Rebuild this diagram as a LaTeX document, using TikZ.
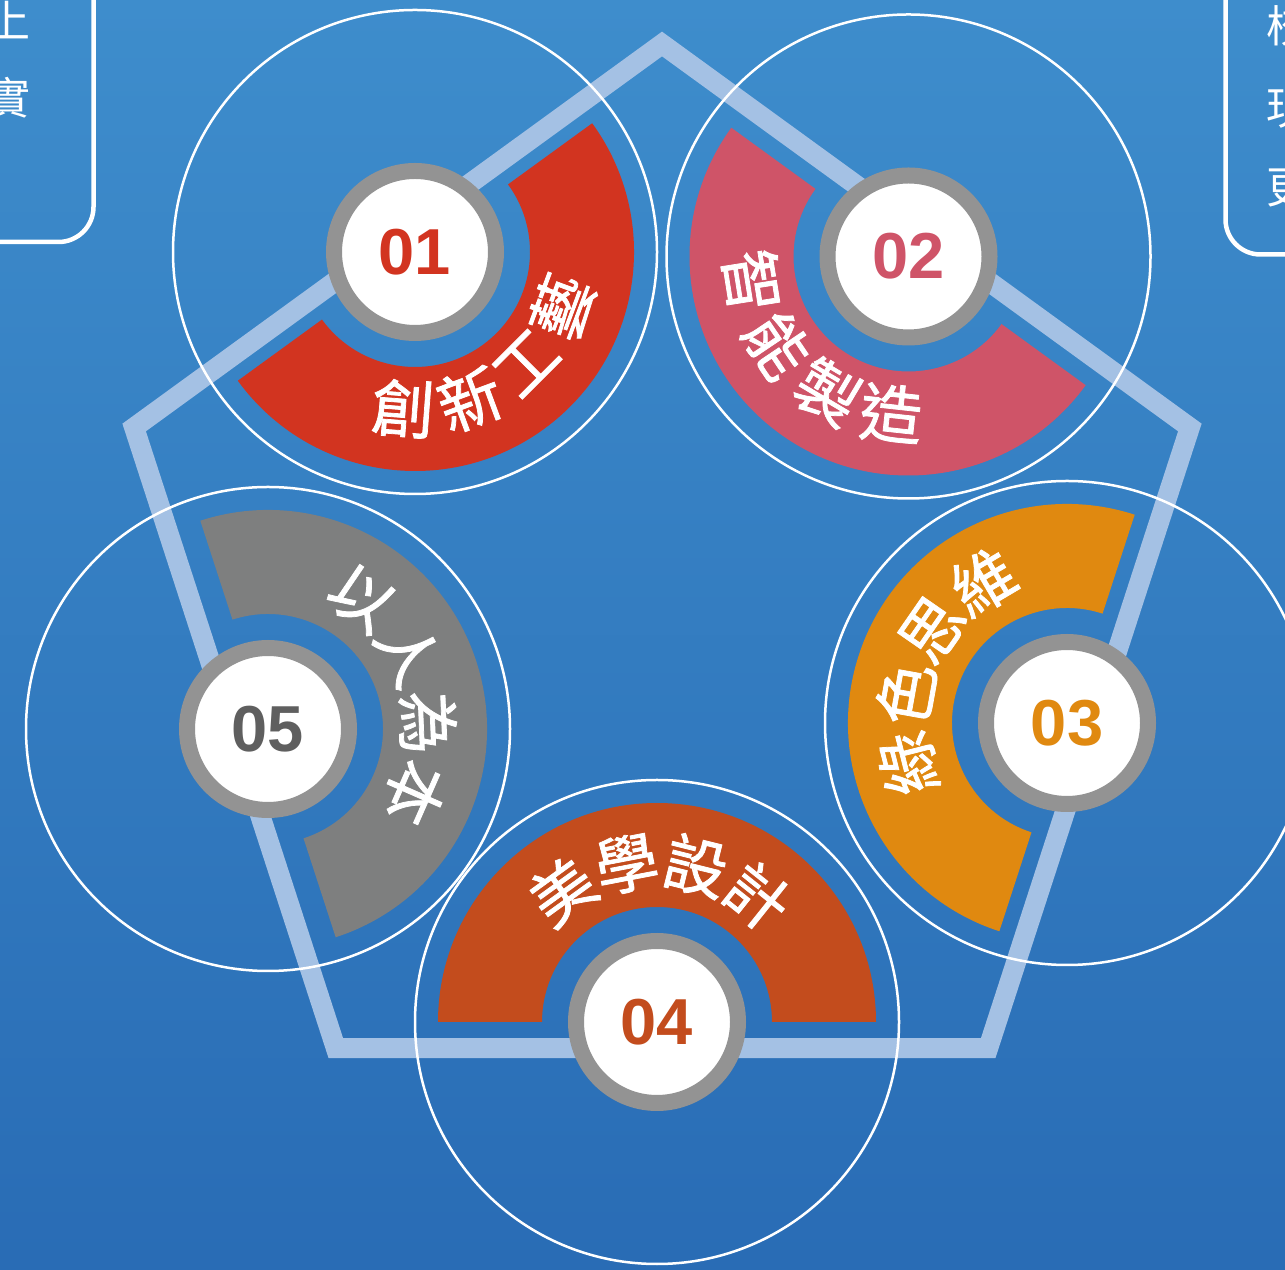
\documentclass[tikz,border=0pt]{standalone}
\usepackage{fontspec}
\setmainfont{Liberation Sans}
\newfontfamily\cjk{Noto Sans CJK TC}
\newfontfamily\cjkm{Noto Sans CJK TC}[FakeBold=1.2]
\usetikzlibrary{calc}
\definecolor{bgtop}{RGB}{62,141,204}
\definecolor{bgbot}{RGB}{41,108,181}
\definecolor{band}{RGB}{164,193,228}
\definecolor{ringgray}{RGB}{147,147,147}
\definecolor{c1}{RGB}{210,52,32}
\definecolor{c2}{RGB}{207,84,104}
\definecolor{c3}{RGB}{224,137,16}
\definecolor{c4}{RGB}{195,76,29}
\definecolor{c5}{RGB}{126,127,127}
\definecolor{n5}{RGB}{95,95,95}
\newcommand\ringseg[3]{\fill[#3] ($(#1)+(#2:219)$) arc[start angle=#2, delta angle=180, radius=219] -- ($(#1)+(#2+180:115)$) arc[start angle=#2+180, delta angle=-180, radius=115] -- cycle;}
\begin{document}
\begin{tikzpicture}[x=1pt,y=1pt,
  badge/.style={circle, fill=white, draw=ringgray, line width=16pt, minimum size=162pt, inner sep=0pt, font=\fontsize{65}{65}\selectfont\bfseries},
  arctext/.style={text=white, inner sep=0pt, font=\fontsize{63}{63}\selectfont\cjkm},
  sidetext/.style={text=white, inner sep=0pt, font=\fontsize{44}{44}\selectfont\cjk},
  bigring/.style={draw=white, line width=2.5pt},
  sidebox/.style={draw=white, line width=4.5pt, rounded corners=35pt}]
\useasboundingbox (0,0) rectangle (1285,1269);
\shade[top color=bgtop, bottom color=bgbot] (0,0) rectangle (1285,1269);
% side boxes
\draw[sidebox] (-60,1330) rectangle (93.5,1027);
\draw[sidebox] (1225.5,1014.5) rectangle (1345,1330);
\node[sidetext] (l1) at (9,1248.5) {上};
\node[sidetext] (l2) at (9,1171.5) {實};
\node[sidetext] (r1) at (1288,1243.5) {校};
\node[sidetext] (r2) at (1288,1160.5) {現};
\node[sidetext] (r3) at (1288,1081.5) {更};
% centres
\coordinate (C1) at (415,1017);
\coordinate (C2) at (908.5,1012.5);
\coordinate (C3) at (1067,546);
\coordinate (C4) at (657,247);
\coordinate (C5) at (268,540);
% pentagon
\coordinate (PC) at (662,670);
\foreach \k in {0,...,4}{\coordinate (P\k) at ($(PC)+(90+72*\k:555)$);}
\draw[band, line width=20pt, line join=miter] (P0) -- (P1) -- (P2) -- (P3) -- (P4) -- cycle;
% big rings
\foreach \c in {C1,C2,C3,C4,C5}{\draw[bigring] (\c) circle[radius=242];}
% half rings
\ringseg{C1}{216}{c1}
\ringseg{C2}{144}{c2}
\ringseg{C3}{72}{c3}
\ringseg{C4}{0}{c4}
\ringseg{C5}{288}{c5}
% arc texts
\foreach \a/\t [count=\i] in {-94.3/創,-69.6/新,-45/工,-20.4/藝}
  \node[arctext, rotate=\a+90] (ta\i) at ($(C1)+(\a:157)$) {\t};
\foreach \a/\t [count=\i] in {189/智,214/能,239.3/製,263.8/造}
  \node[arctext, rotate=\a+90] (tb\i) at ($(C2)+(\a:158)$) {\t};
\foreach \a/\t [count=\i] in {194.2/綠,169.8/色,145.3/思,120.6/維}
  \node[arctext, rotate=\a-90] (tc\i) at ($(C3)+(\a:164)$) {\t};
\foreach \a/\t [count=\i] in {125.9/美,100.9/學,76/設,51.3/計}
  \node[arctext, rotate=\a-90] (td\i) at ($(C4)+(\a:161)$) {\t};
\foreach \a/\t [count=\i] in {54.3/以,28.3/人,2.3/為,-23.7/本}
  \node[arctext, rotate=\a-90] (te\i) at ($(C5)+(\a:160)$) {\t};
% badges
\node[badge, text=c1] (b1) at (C1) {01};
\node[badge, text=c2] (b2) at (C2) {02};
\node[badge, text=c3] (b3) at (C3) {03};
\node[badge, text=c4] (b4) at (C4) {04};
\node[badge, text=n5] (b5) at (C5) {05};
\end{tikzpicture}
\end{document}
